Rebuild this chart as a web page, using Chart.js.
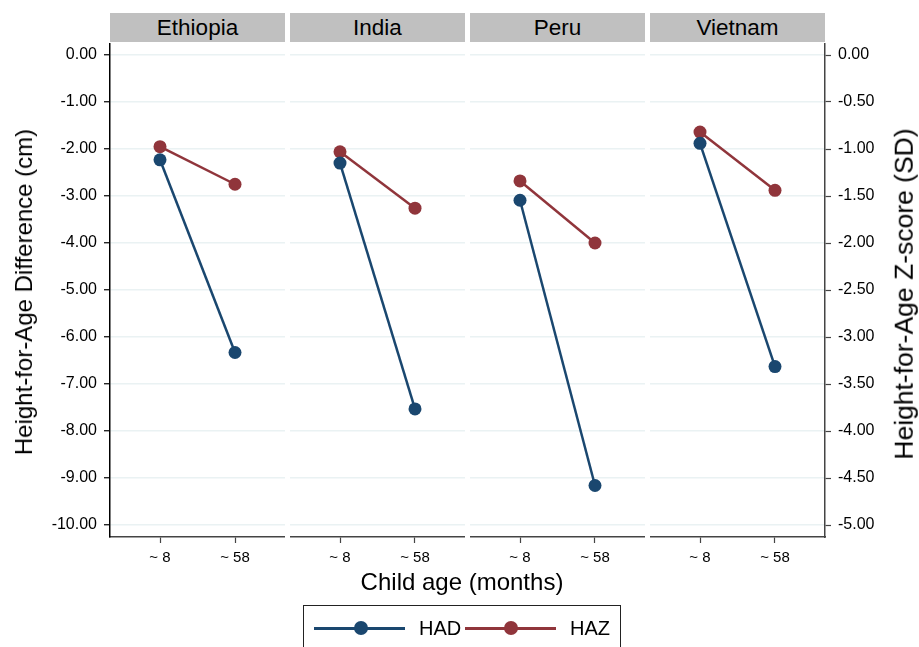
<!DOCTYPE html>
<html>
<head>
<meta charset="utf-8">
<script src="https://cdn.jsdelivr.net/npm/chart.js@4.4.1/dist/chart.umd.min.js"></script>
<style>
html,body{margin:0;padding:0;background:#fff;width:919px;height:647px;overflow:hidden;font-family:"Liberation Sans",Arial,Helvetica,sans-serif;color:#000;}
#wrap{position:relative;width:919px;height:647px;}
canvas{position:absolute;}
.strip{position:absolute;top:13px;height:29px;width:175px;background:#c0c0c0;font-size:22.5px;line-height:29px;text-align:center;}
.ytitle{position:absolute;white-space:nowrap;transform:translate(-50%,-50%) rotate(-90deg);line-height:1;}
.xtitle{position:absolute;font-size:24px;white-space:nowrap;transform:translate(-50%,-50%);line-height:1;}
#legend{position:absolute;left:303px;top:605px;width:318px;height:60px;border:1.5px solid #222;box-sizing:border-box;}
.lline{position:absolute;height:3px;}
.ldot{position:absolute;width:14px;height:14px;border-radius:50%;}
.ltext{position:absolute;font-size:20px;line-height:20px;}
</style>
</head>
<body>
<div id="wrap"></div>
<script>
// ---- data ----
const countries = ['Ethiopia', 'India', 'Peru', 'Vietnam'];
const ageLabels = ['~ 8', '~ 58'];
const hadAt8  = [-2.23, -2.30, -3.09, -1.88];   // cm
const hadAt58 = [-6.33, -7.53, -9.16, -6.63];   // cm
const hazAt8  = [-0.975, -1.03, -1.34, -0.82];  // SD
const hazAt58 = [-1.375, -1.63, -2.00, -1.44];  // SD
const cmTicks = [0, -1, -2, -3, -4, -5, -6, -7, -8, -9, -10];
const sdTicks = [0, -0.5, -1, -1.5, -2, -2.5, -3, -3.5, -4, -4.5, -5];
const seriesNames = ['HAD', 'HAZ'];

// ---- styles / layout ----
const NAVY = '#1a476f', MAROON = '#90353b', GRID = '#eaf2f3';
const FONT = '"Liberation Sans", Arial, Helvetica, sans-serif';
const panelLeft = [110, 290, 470, 650];
const panelW = 175, plotTop = 43, plotH = 494, xAxisH = 40;
const leftAxisW = 110, rightAxisW = 94;
const cmPad = 12 / 47;

const wrap = document.getElementById('wrap');

// strips
countries.forEach((c, i) => {
  const d = document.createElement('div');
  d.className = 'strip';
  d.style.left = panelLeft[i] + 'px';
  d.textContent = c;
  wrap.appendChild(d);
});

function makeChart(i) {
  const isFirst = i === 0, isLast = i === countries.length - 1;
  const left = panelLeft[i] - (isFirst ? leftAxisW : 0);
  const width = panelW + (isFirst ? leftAxisW : 0) + (isLast ? rightAxisW : 0);
  const height = plotH + xAxisH;
  const cv = document.createElement('canvas');
  cv.width = width; cv.height = height;
  cv.style.left = left + 'px'; cv.style.top = plotTop + 'px';
  cv.style.width = width + 'px'; cv.style.height = height + 'px';
  wrap.appendChild(cv);

  new Chart(cv, {
    type: 'line',
    data: {
      datasets: [
        {
          label: seriesNames[0], yAxisID: 'y',
          data: [{x: 0, y: hadAt8[i]}, {x: 1, y: hadAt58[i]}],
          borderColor: NAVY, backgroundColor: NAVY, pointBackgroundColor: NAVY,
          borderWidth: 2.5, pointRadius: 6.5, pointBorderWidth: 0, pointHoverRadius: 6.5
        },
        {
          label: seriesNames[1], yAxisID: 'yR',
          data: [{x: 0, y: hazAt8[i]}, {x: 1, y: hazAt58[i]}],
          borderColor: MAROON, backgroundColor: MAROON, pointBackgroundColor: MAROON,
          borderWidth: 2.5, pointRadius: 6.5, pointBorderWidth: 0, pointHoverRadius: 6.5
        }
      ]
    },
    options: {
      responsive: false, animation: false, devicePixelRatio: window.devicePixelRatio || 1,
      layout: {padding: 0, autoPadding: false},
      plugins: {legend: {display: false}, tooltip: {enabled: false}, title: {display: false}},
      events: [],
      scales: {
        x: {
          type: 'linear', position: 'bottom', min: -2/3, max: 5/3,
          afterBuildTicks: s => { s.ticks = ageLabels.map((_, k) => ({value: k})); },
          ticks: {callback: v => ageLabels[v] ?? '', font: {size: 15, family: FONT}, color: '#000', padding: 6, maxRotation: 0, autoSkip: false},
          grid: {drawOnChartArea: false, drawTicks: true, tickLength: 6, tickColor: '#444', tickWidth: 1.2},
          border: {color: '#444', width: 1.5},
          afterFit: s => { s.height = xAxisH; s.paddingLeft = 0; s.paddingRight = 0; }
        },
        y: {
          type: 'linear', position: 'left', min: -10 - cmPad, max: cmPad,
          afterBuildTicks: s => { s.ticks = cmTicks.map(v => ({value: v})); },
          ticks: {display: isFirst, callback: v => Number(v).toFixed(2), font: {size: 16, family: FONT}, color: '#000', padding: 7},
          grid: {color: GRID, lineWidth: 1.5, drawTicks: isFirst, tickLength: 6, tickColor: '#000', tickWidth: 1.2},
          border: {display: isFirst, color: '#000', width: 1.5},
          afterFit: s => { s.width = isFirst ? leftAxisW : 0; s.paddingTop = 0; s.paddingBottom = 0; }
        },
        yR: {
          type: 'linear', position: 'right', display: isLast, min: -5 - cmPad / 2, max: cmPad / 2,
          afterBuildTicks: s => { s.ticks = sdTicks.map(v => ({value: v})); },
          ticks: {callback: v => Number(v).toFixed(2), font: {size: 16, family: FONT}, color: '#000', padding: 7},
          grid: {drawOnChartArea: false, drawTicks: true, tickLength: 6, tickColor: '#444', tickWidth: 1.2},
          border: {color: '#444', width: 1.5},
          afterFit: s => { s.width = isLast ? rightAxisW : 0; s.paddingTop = 0; s.paddingBottom = 0; }
        }
      }
    }
  });
}
countries.forEach((_, i) => makeChart(i));

// axis titles
function addText(cls, text, x, y, size) {
  const d = document.createElement('div');
  d.className = cls; d.textContent = text;
  d.style.left = x + 'px'; d.style.top = y + 'px';
  if (size) d.style.fontSize = size + 'px';
  wrap.appendChild(d);
}
addText('ytitle', 'Height-for-Age Difference (cm)', 24, 292, 24);
addText('ytitle', 'Height-for-Age Z-score (SD)', 904, 294, 26.5);
addText('xtitle', 'Child age (months)', 462, 582);

// legend
const lg = document.createElement('div');
lg.id = 'legend';
wrap.appendChild(lg);
const legendItems = [
  {name: seriesNames[0], color: NAVY, lineL: 10, dot: 50, text: 115},
  {name: seriesNames[1], color: MAROON, lineL: 161, dot: 200, text: 266}
];
legendItems.forEach(it => {
  const l = document.createElement('div');
  l.className = 'lline'; l.style.background = it.color;
  l.style.left = it.lineL + 'px'; l.style.width = '91px'; l.style.top = '20.5px';
  lg.appendChild(l);
  const d = document.createElement('div');
  d.className = 'ldot'; d.style.background = it.color;
  d.style.left = it.dot + 'px'; d.style.top = '15px';
  lg.appendChild(d);
  const t = document.createElement('div');
  t.className = 'ltext'; t.textContent = it.name;
  t.style.left = it.text + 'px'; t.style.top = '12px';
  lg.appendChild(t);
});
</script>
</body>
</html>
